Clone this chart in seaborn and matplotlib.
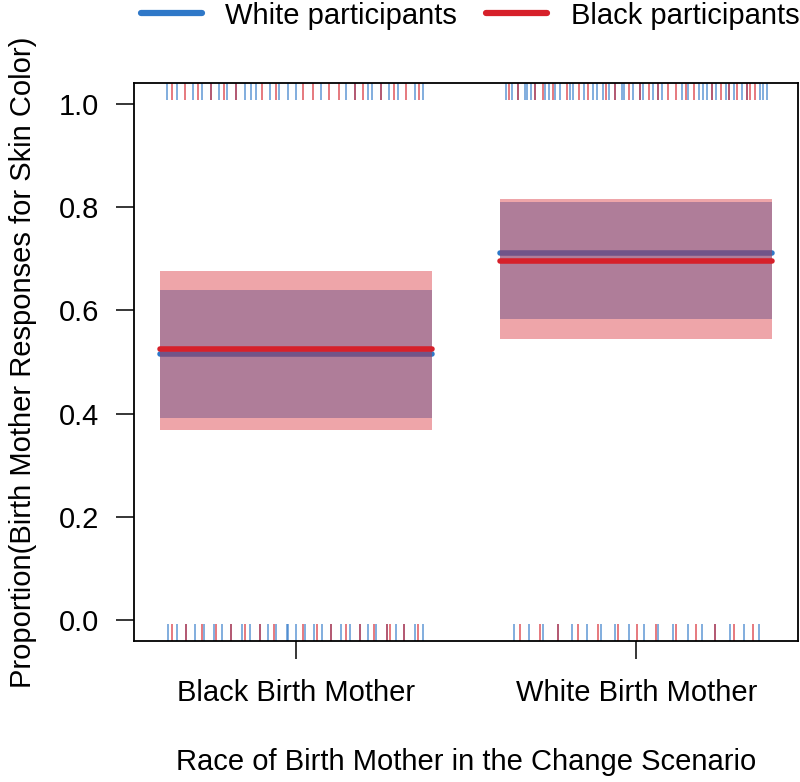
import matplotlib
matplotlib.use("Agg")
import matplotlib.pyplot as plt
import numpy as np
import pandas as pd
import seaborn as sns
from matplotlib.lines import Line2D

categories = ["Black Birth Mother", "White Birth Mother"]
groups = ["White participants", "Black participants"]

white_mean = [0.516, 0.710]
white_lo = [0.391, 0.584]
white_hi = [0.640, 0.809]
black_mean = [0.526, 0.696]
black_lo = [0.369, 0.545]
black_hi = [0.677, 0.816]

# jittered rug offsets around each category, response = 1 (top) and 0 (bottom)
white_yes_bbm = [-0.377, -0.350, -0.301, -0.275, -0.249, -0.226, -0.201, -0.174, -0.150, -0.130,
                 -0.117, -0.076, -0.049, -0.022, 0.000, 0.075, 0.149, 0.173, 0.212, 0.225,
                 0.249, 0.274, 0.300, 0.351, 0.375]
black_yes_bbm = [-0.363, -0.326, -0.286, -0.249, -0.211, -0.174, -0.098, -0.057, 0.020, 0.051,
                 0.098, 0.127, 0.173, 0.197, 0.249, 0.288, 0.325, 0.362]
white_yes_wbm = [-0.382, -0.365, -0.346, -0.328, -0.322, -0.309, -0.296, -0.267, -0.255, -0.239,
                 -0.223, -0.196, -0.187, -0.152, -0.128, -0.116, -0.099, -0.079, -0.062, -0.042,
                 -0.035, -0.009, 0.011, 0.021, 0.048, 0.063, 0.077, 0.134, 0.153, 0.183,
                 0.195, 0.209, 0.222, 0.234, 0.263, 0.273, 0.287, 0.312, 0.324, 0.363,
                 0.372, 0.385]
black_yes_wbm = [-0.374, -0.346, -0.296, -0.275, -0.245, -0.204, -0.167, -0.141, -0.089, -0.062,
                 -0.021, 0.011, 0.038, 0.063, 0.092, 0.116, 0.146, 0.170, 0.222, 0.248,
                 0.273, 0.297, 0.324, 0.333, 0.349]
white_no_bbm = [-0.374, -0.350, -0.321, -0.296, -0.269, -0.240, -0.216, -0.191, -0.159, -0.135,
                -0.106, -0.081, -0.057, -0.027, -0.022, 0.000, 0.026, 0.053, 0.078, 0.105,
                0.134, 0.158, 0.188, 0.212, 0.235, 0.268, 0.293, 0.317, 0.349, 0.373]
black_no_bbm = [-0.362, -0.321, -0.274, -0.233, -0.191, -0.150, -0.106, -0.065, 0.022, 0.061,
                0.105, 0.149, 0.188, 0.229, 0.268, 0.276, 0.317, 0.359]
white_no_wbm = [-0.358, -0.314, -0.275, -0.229, -0.189, -0.146, -0.104, -0.062, -0.021, 0.023,
                0.065, 0.107, 0.151, 0.192, 0.232, 0.275, 0.317, 0.359]
black_no_wbm = [-0.341, -0.284, -0.229, -0.172, -0.113, -0.055, 0.002, 0.058, 0.116, 0.175,
                0.232, 0.287, 0.344]

blue = "#2f78c8"
red = "#d6202a"
palette = {"White participants": blue, "Black participants": red}

rows = []
for group, resp, cat, offs in [
    (groups[0], 1, 1, white_yes_bbm), (groups[1], 1, 1, black_yes_bbm),
    (groups[0], 1, 2, white_yes_wbm), (groups[1], 1, 2, black_yes_wbm),
    (groups[0], 0, 1, white_no_bbm), (groups[1], 0, 1, black_no_bbm),
    (groups[0], 0, 2, white_no_wbm), (groups[1], 0, 2, black_no_wbm),
]:
    for o in offs:
        rows.append({"group": group, "response": resp, "x": cat + o})
rug = pd.DataFrame(rows)

sns.set_theme(style="white")
plt.rcParams["font.family"] = ["Liberation Sans", "DejaVu Sans"]
plt.rcParams["font.size"] = 21
plt.rcParams["text.color"] = "black"
plt.rcParams["axes.labelcolor"] = "black"

fig = plt.figure(figsize=(8, 7.82), dpi=100)
ax = fig.add_axes([0.1675, 0.1803, 0.83, 0.7136])

pos = np.array([1, 2])
ax.bar(pos, np.array(white_hi) - np.array(white_lo), bottom=white_lo, width=0.8,
       color=blue, alpha=0.5, linewidth=0, zorder=1)
ax.hlines(white_mean, pos - 0.4, pos + 0.4, colors=blue, linewidth=4,
          capstyle="round", zorder=2)
ax.bar(pos, np.array(black_hi) - np.array(black_lo), bottom=black_lo, width=0.8,
       color=red, alpha=0.4, linewidth=0, zorder=3)
lc = ax.hlines(black_mean, pos - 0.4, pos + 0.4, colors=red, linewidth=4, zorder=4)
lc.set_capstyle("round")

bottom_rug = rug[rug["response"] == 0]
sns.rugplot(data=bottom_rug, x="x", hue="group", palette=palette, height=0.031,
            alpha=0.7, linewidth=1.2, legend=False, ax=ax, expand_margins=False)
top_rug = rug[rug["response"] == 1]
for group in groups:
    xs = top_rug.loc[top_rug["group"] == group, "x"]
    ax.vlines(xs, 1 - 0.031, 1, transform=ax.get_xaxis_transform(),
              colors=palette[group], alpha=0.7, linewidth=1.2)

ax.set_xlim(0.525, 2.475)
ax.set_ylim(-0.04, 1.04)
ax.set_xticks(pos)
ax.set_xticklabels(categories)
ax.set_yticks(np.arange(0, 1.01, 0.2))
ax.set_yticklabels([f"{v:.1f}" for v in np.arange(0, 1.01, 0.2)])
ax.tick_params(axis="both", direction="out", length=13, width=1.1, color="black",
               labelsize=21, labelcolor="black", left=True, bottom=True)
ax.tick_params(axis="y", pad=12)
ax.tick_params(axis="x", pad=14)
for s in ax.spines.values():
    s.set_visible(True)
    s.set_color("black")
    s.set_linewidth(1.3)

ax.set_xlabel("Race of Birth Mother in the Change Scenario", fontsize=21, labelpad=30)
ax.set_ylabel("Proportion(Birth Mother Responses for Skin Color)", fontsize=21, labelpad=16)

handles = [Line2D([0], [0], color=blue, lw=4.5), Line2D([0], [0], color=red, lw=4.5)]
fig.legend(handles, groups, loc="center", bbox_to_anchor=(0.5875, 0.98), ncol=2,
           frameon=False, fontsize=21, handlelength=2.1, handletextpad=0.8,
           columnspacing=1.0, borderaxespad=0)

fig.savefig("out.png", dpi=100)
